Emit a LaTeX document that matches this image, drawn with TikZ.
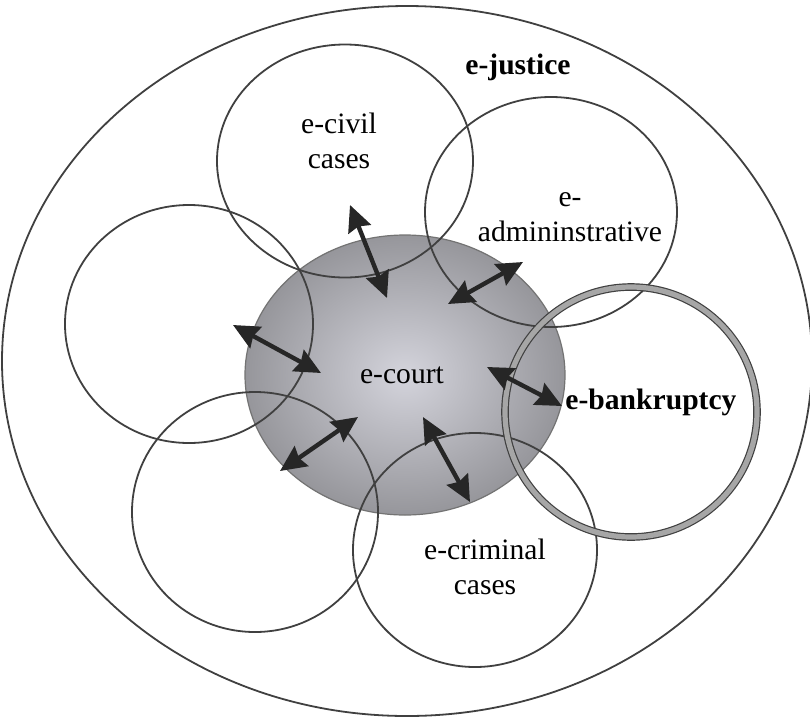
\documentclass[tikz,border=0pt]{standalone}
\usepackage{fontspec}
\setmainfont{Liberation Serif}
\usetikzlibrary{arrows.meta,shapes.geometric}

\definecolor{courtlight}{RGB}{212,212,220}
\definecolor{courtdark}{RGB}{150,150,155}

\tikzset{
  ring/.style={ellipse, inner sep=0pt, draw=black!75, line width=0.9pt},
  thickring/.style={ellipse, inner sep=0pt, draw=black!75, double=black!35,
    double distance=2.6pt, line width=0.6pt},
  court/.style={ellipse, inner sep=0pt, draw=black!55, line width=0.6pt,
    inner color=courtlight, outer color=courtdark},
  link/.style={{Stealth[length=13pt,width=12pt,inset=1.5pt]}-{Stealth[length=13pt,width=12pt,inset=1.5pt]},
    line width=2.2pt, draw=black!85},
  lbl/.style={inner sep=0pt, align=center, font=\fontsize{14.8}{17.5}\selectfont},
  blbl/.style={lbl, font=\fontsize{14.8}{17.5}\selectfont\bfseries}
}

\begin{document}
\begin{tikzpicture}[x=0.5pt, y=-0.5pt]
\useasboundingbox (0,0) rectangle (810,719);

% outer ring
\node[ring, minimum width=405pt, minimum height=355pt] (justice) at (407,361) {};

% centre
\node[court, minimum width=160pt, minimum height=140pt] (court) at (405,375) {};

% surrounding rings
\node[ring, minimum width=128pt, minimum height=116.5pt] (civil) at (345,161) {};
\node[ring, minimum width=126pt, minimum height=115pt] (admin) at (551,212) {};
\node[ring, minimum width=124pt, minimum height=119pt] (west) at (189,324) {};
\node[ring, minimum width=123pt, minimum height=120pt] (southwest) at (255,512) {};
\node[ring, minimum width=122pt, minimum height=117pt] (criminal) at (475,550) {};
\node[thickring, minimum width=126pt, minimum height=125pt] (bankruptcy) at (631,412) {};

% Labels
\node[blbl] (justicetxt) at (518,67) {e-justice};
\node[lbl] (courttxt) at (402,375) {e-court};
\node[lbl] (civiltxt) at (339,141) {e-civil\\cases};
\node[lbl] (admintxt) at (570,217) {e-\\admininstrative};
\node[lbl] (criminaltxt) at (485,567) {e-criminal\\cases};
\node[blbl] (bankruptcytxt) at (651,402) {e-bankruptcy};

% arrow ends
\coordinate (c1) at (350,205);  \coordinate (c2) at (387,298);
\coordinate (a1) at (523,262);  \coordinate (a2) at (448,304);
\coordinate (b1) at (487,367);  \coordinate (b2) at (562,406);
\coordinate (k1) at (423,417);  \coordinate (k2) at (470,502);
\coordinate (s1) at (358,417);  \coordinate (s2) at (280,471);
\coordinate (w1) at (233,325);  \coordinate (w2) at (321,373);

% links
\draw[link] (c1) -- (c2);
\draw[link] (a1) -- (a2);
\draw[link] (b1) -- (b2);
\draw[link] (k1) -- (k2);
\draw[link] (s1) -- (s2);
\draw[link] (w1) -- (w2);
\end{tikzpicture}
\end{document}
